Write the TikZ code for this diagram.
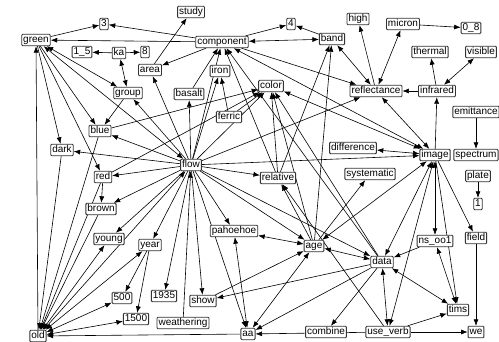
\documentclass[tikz,border=0pt]{standalone}
\usepackage{fontspec}
\setmainfont{Liberation Sans}
\usetikzlibrary{arrows.meta}
\usetikzlibrary{backgrounds}

\tikzset{
  term/.style={draw=black!80, line width=0.9pt, fill=white, rounded corners=1pt,
    inner xsep=1.5pt, inner ysep=1pt, text height=7.5pt, text depth=2pt,
    font=\fontsize{10}{10}\selectfont},
  link/.style={-{Latex[length=6.5pt,width=5pt]}, line width=0.6pt},
  twoway/.style={{Latex[length=6.5pt,width=5pt]}-{Latex[length=6.5pt,width=5pt]}, line width=0.6pt}
}

\begin{document}
\begin{tikzpicture}[x=1pt,y=-1pt]
  \useasboundingbox (0,0) rectangle (499,342);
  % terms
  \node[term] (study) at (191,12) {study};
  \node[term] (three) at (104,24) {3};
  \node[term] (four) at (291,24) {4};
  \node[term] (component) at (222,42) {component};
  \node[term] (band) at (332,39) {band};
  \node[term] (green) at (36,40) {green};
  \node[term] (onefive) at (82,52) {1\_5};
  \node[term] (ka) at (119,53) {ka};
  \node[term] (eight) at (145,52) {8};
  \node[term] (area) at (150,70) {area};
  \node[term] (high) at (358,19) {high};
  \node[term] (micron) at (403,24) {micron};
  \node[term] (zeroeight) at (471,28) {0\_8};
  \node[term] (thermal) at (430,52) {thermal};
  \node[term] (visible) at (481,52) {visible};
  \node[term] (iron) at (220,71) {iron};
  \node[term] (group) at (128,93) {group};
  \node[term] (basalt) at (189,94) {basalt};
  \node[term] (color) at (271,86) {color};
  \node[term] (reflectance) at (376,91) {reflectance};
  \node[term] (infrared) at (437,91) {infrared};
  \node[term] (emittance) at (476,112) {emittance};
  \node[term] (ferric) at (229,117) {ferric};
  \node[term] (blue) at (100,131) {blue};
  \node[term] (dark) at (62,150) {dark};
  \node[term] (red) at (103,177) {red};
  \node[term] (flow) at (191,165) {flow};
  \node[term] (relative) at (278,178) {relative};
  \node[term] (difference) at (353,148) {difference};
  \node[term] (image) at (435,155) {image};
  \node[term] (spectrum) at (476,155) {spectrum};
  \node[term] (systematic) at (370,174) {systematic};
  \node[term] (plate) at (478,176) {plate};
  \node[term] (one) at (478,204) {1};
  \node[term] (brown) at (101,209) {brown};
  \node[term] (young) at (109,239) {young};
  \node[term] (year) at (150,245) {year};
  \node[term] (pahoehoe) at (234,231) {pahoehoe};
  \node[term] (age) at (314,246) {age};
  \node[term] (nsoo) at (435,241) {ns\_oo1};
  \node[term] (data) at (382,262) {data};
  \node[term] (field) at (476,238) {field};
  \node[term] (fivehundred) at (122,298) {500};
  \node[term] (fifteenhundred) at (136,319) {1500};
  \node[term] (nineteen) at (164,296) {1935};
  \node[term] (show) at (203,301) {show};
  \node[term] (weathering) at (183,323) {weathering};
  \node[term] (aa) at (248,334) {aa};
  \node[term] (combine) at (326,332) {combine};
  \node[term] (useverb) at (388,332) {use\_verb};
  \node[term] (tims) at (458,310) {tims};
  \node[term] (we) at (476,332) {we};
  \node[term] (old) at (38,336) {old};

  \begin{scope}[on background layer]
    % one-way links
    \foreach \a/\b in {green/three, component/three, component/green, ka/onefive,
      ka/eight, component/area, area/study, component/four, band/four,
      basalt/component, ferric/iron, flow/iron, ferric/color, reflectance/high,
      micron/zeroeight, infrared/reflectance, infrared/thermal, image/infrared,
      emittance/spectrum, plate/one, green/dark, green/blue, group/blue, green/red,
      red/brown, flow/dark, flow/blue, flow/brown, flow/red, flow/group, flow/area,
      flow/basalt, flow/component, flow/color, flow/reflectance, flow/relative,
      flow/pahoehoe, flow/young, flow/year, flow/nineteen, flow/show,
      weathering/flow, flow/aa, flow/age, flow/data, flow/image, dark/old,
      blue/old, red/old, brown/old, year/fivehundred, year/fifteenhundred,
      aa/old, old/green, data/show, show/age, data/aa, useverb/aa, nsoo/data,
      useverb/tims, useverb/we, field/we, image/tims, data/combine, image/field,
      age/systematic, age/relative, relative/component, relative/color, age/color,
      age/band, data/color, data/component, relative/band, blue/color, red/color,
      useverb/relative, component/reflectance}
      \draw[link] (\a) -- (\b);
    % two-way links
    \foreach \a/\b in {ka/group, component/band, reflectance/micron,
      infrared/visible, band/reflectance, green/group, difference/image,
      green/flow, young/old, year/old, old/fivehundred, old/fifteenhundred,
      pahoehoe/aa, pahoehoe/age, age/aa, data/useverb, data/tims, nsoo/tims,
      image/nsoo, image/data, image/age, image/useverb, color/image,
      component/image, reflectance/image, age/data, flow/old}
      \draw[twoway] (\a) -- (\b);
  \end{scope}
\end{tikzpicture}
\end{document}
